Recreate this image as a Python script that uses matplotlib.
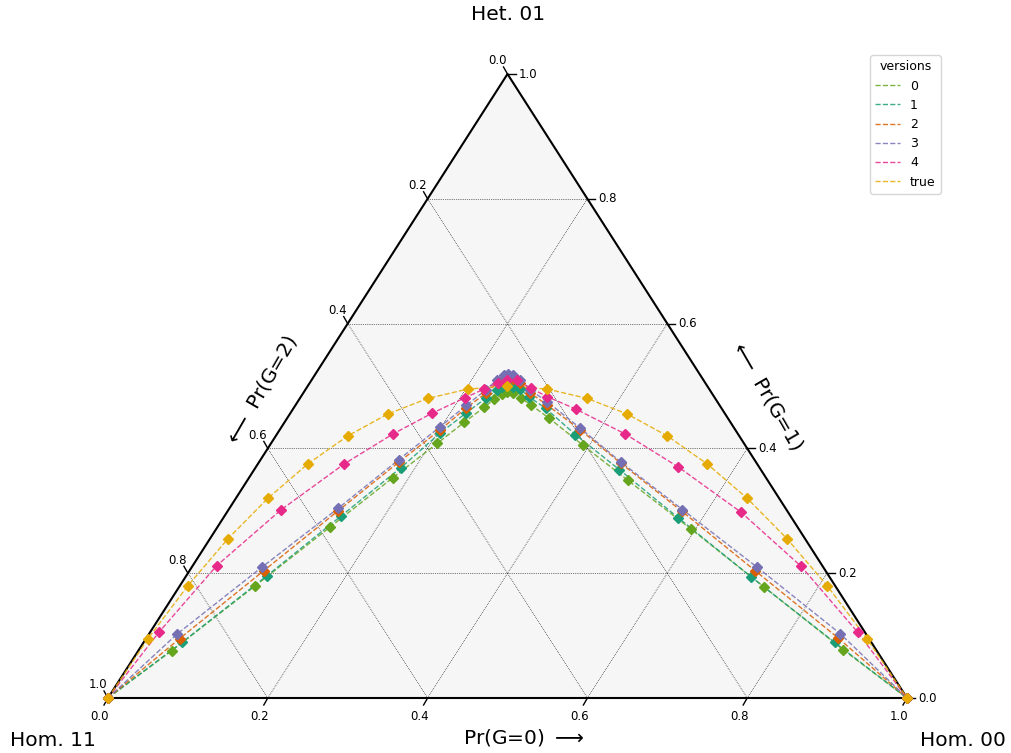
import numpy as np
import matplotlib
matplotlib.use("Agg")
import matplotlib.pyplot as plt

# --- DATA: genotype frequencies per version (Pr(G=0), Pr(G=1)); Pr(G=2) = rest ---
versions = ["0", "1", "2", "3", "4", "true"]
colors = ["#66a61e", "#1b9e77", "#d95f02", "#7570b3", "#e7298a", "#e6ab02"]

g0_v0 = [0, .042, .094, .141, .180, .208, .225, .238, .244, .250, .255, .263, .276, .294, .327, .392, .476, .594, .732, .882, 1]
g1_v0 = [0, .076, .179, .274, .353, .408, .442, .466, .479, .487, .490, .489, .481, .470, .449, .405, .349, .271, .178, .077, 0]

g0_v1 = [0, .048, .101, .146, .182, .203, .220, .233, .240, .244, .250, .257, .268, .285, .316, .374, .457, .569, .708, .865, 1]
g1_v1 = [0, .089, .196, .292, .369, .424, .457, .481, .494, .499, .501, .499, .495, .483, .464, .422, .366, .289, .194, .089, 0]

g0_v2 = [0, .042, .093, .138, .175, .201, .216, .229, .235, .238, .243, .251, .263, .284, .314, .376, .454, .569, .708, .866, 1]
g1_v2 = [0, .095, .204, .300, .378, .430, .465, .489, .505, .512, .514, .512, .505, .489, .470, .430, .376, .299, .204, .096, 0]

g0_v3 = [0, .035, .088, .136, .173, .198, .214, .226, .232, .236, .241, .248, .261, .281, .312, .374, .453, .568, .707, .865, 1]
g1_v3 = [0, .102, .210, .304, .382, .434, .469, .494, .510, .518, .520, .518, .510, .494, .475, .433, .378, .302, .210, .103, 0]

g0_v4 = [0, .011, .030, .066, .108, .145, .177, .206, .223, .236, .245, .257, .282, .308, .354, .436, .529, .643, .762, .886, 1]
g1_v4 = [0, .105, .212, .302, .375, .423, .456, .481, .495, .505, .510, .509, .496, .483, .463, .423, .370, .298, .211, .105, 0]

g0_true = [0, .0025, .01, .0225, .04, .0625, .09, .1225, .16, .2025, .25, .3025, .36, .4225, .49, .5625, .64, .7225, .81, .9025, 1]
g1_true = [0, .095, .18, .255, .32, .375, .42, .455, .48, .495, .5, .495, .48, .455, .42, .375, .32, .255, .18, .095, 0]

series = [(g0_v0, g1_v0), (g0_v1, g1_v1), (g0_v2, g1_v2),
          (g0_v3, g1_v3), (g0_v4, g1_v4), (g0_true, g1_true)]

ticks = [0.0, 0.2, 0.4, 0.6, 0.8, 1.0]


def project(g0, g1):
    g0 = np.asarray(g0, dtype=float)
    g1 = np.asarray(g1, dtype=float)
    return g0 + g1 / 2.0, g1


# --- FIGURE ---
W, H = 1011, 753
fig = plt.figure(figsize=(W / 100, H / 100), dpi=100)
ax = fig.add_axes([0, 0, 1, 1])
# triangle corners at pixel (108,698), (907,698), (508,74)
sx, sy = 799.0, 624.0
ax.set_xlim(-108 / sx, (W - 108) / sx)
ax.set_ylim(-(H - 698) / sy, 698 / sy)
ax.axis("off")

px = 1.0 / sx
py = 1.0 / sy

# background + boundary
tri_x = [0, 1, 0.5, 0]
tri_y = [0, 0, 1, 0]
ax.fill(tri_x, tri_y, color="#f6f6f6", zorder=0)
ax.plot(tri_x, tri_y, color="black", lw=1.5, zorder=3, solid_capstyle="round")

# gridlines
for k in [0.2, 0.4, 0.6, 0.8]:
    ax.plot([k / 2, 1 - k / 2], [k, k], color="black", lw=0.5, ls=":", zorder=1)
    ax.plot([k, k + (1 - k) / 2], [0, 1 - k], color="black", lw=0.5, ls=":", zorder=1)
    ax.plot([1 - k, (1 - k) / 2], [0, 1 - k], color="black", lw=0.5, ls=":", zorder=1)

# ticks and labels
for k in ticks:
    lab = f"{k:.1f}"
    # bottom: Pr(G=0)
    ax.plot([k, k - 4 * px], [0, -7 * py], color="black", lw=1, zorder=3)
    ax.text(k - 8 * px, -18 * py, lab, ha="center", va="center", fontsize=8.5)
    # right: Pr(G=1)
    xr, yr = 1 - k / 2, k
    ax.plot([xr, xr + 8 * px], [yr, yr], color="black", lw=1, zorder=3)
    ax.text(xr + 11 * px, yr, lab, ha="left", va="center", fontsize=8.5)
    # left: Pr(G=2)
    xl, yl = (1 - k) / 2, 1 - k
    ax.plot([xl, xl - 4 * px], [yl, yl + 7 * py], color="black", lw=1, zorder=3)
    ax.text(xl - 10 * px, yl + 13 * py, lab, ha="center", va="center", fontsize=8.5)

# data
for name, c, (g0, g1) in zip(versions, colors, series):
    x, y = project(g0, g1)
    ax.plot(x, y, ls="--", lw=1, color=c, alpha=0.85, label=name, zorder=4)
    ax.plot(x, y, ls="none", marker="D", ms=5.5, color=c, zorder=5)

# axis and corner labels
def pix(xp, yp):
    return (xp - 108) / sx, (698 - yp) / sy

ax.text(*pix(524, 738), r"Pr(G=0) $\longrightarrow$", ha="center", va="center", fontsize=14.5)
ax.text(*pix(261, 391), r"$\longleftarrow$ Pr(G=2)", ha="center", va="center",
        fontsize=14.5, rotation=60, rotation_mode="anchor")
ax.text(*pix(767, 395), r"$\longleftarrow$ Pr(G=1)", ha="center", va="center",
        fontsize=14.5, rotation=-60, rotation_mode="anchor")
ax.text(*pix(508, 15), "Het. 01", ha="center", va="center", fontsize=14.5)
ax.text(*pix(53, 740), "Hom. 11", ha="center", va="center", fontsize=14.5)
ax.text(*pix(963, 740), "Hom. 00", ha="center", va="center", fontsize=14.5)

leg = ax.legend(title="versions", loc="upper right", fontsize=9, title_fontsize=9,
                bbox_to_anchor=(947 / W, 1 - 49 / H), bbox_transform=fig.transFigure,
                frameon=True, fancybox=True)

fig.savefig("out.png", dpi=100)
